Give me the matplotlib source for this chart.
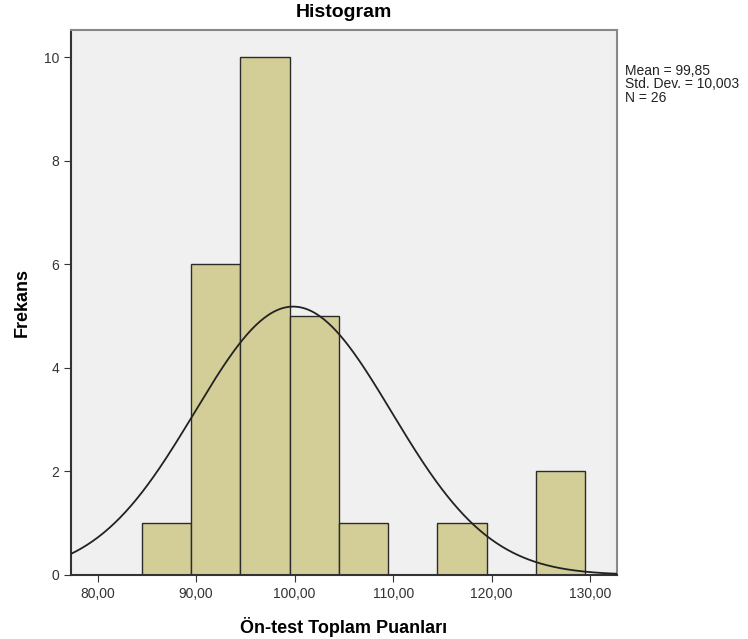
import numpy as np
import matplotlib.pyplot as plt

plt.rcParams['font.family'] = ['Liberation Sans', 'DejaVu Sans']

bin_left = [84.5, 89.5, 94.5, 99.5, 104.5, 109.5, 114.5, 119.5, 124.5]
counts = [1, 6, 10, 5, 1, 0, 1, 0, 2]
bin_width = 5
mean = 99.85
std = 10.003
n = 26
x_ticks = [80, 90, 100, 110, 120, 130]
y_ticks = [0, 2, 4, 6, 8, 10]

fig = plt.figure(figsize=(7.48, 6.39), dpi=100)
ax = fig.add_axes([0.0945, 0.1002, 0.730, 0.853])
ax.set_facecolor('#f0f0f0')

ax.bar(bin_left, counts, width=bin_width, align='edge',
       color='#d3ce97', edgecolor='#2b2b2b', linewidth=1.0, zorder=2)

xs = np.linspace(77.26, 132.7, 400)
ys = n * bin_width / (std * np.sqrt(2 * np.pi)) * np.exp(-0.5 * ((xs - mean) / std) ** 2)
ax.plot(xs, ys, color='#222222', linewidth=1.3, zorder=3)

ax.set_xlim(77.26, 132.7)
ax.set_ylim(0, 10.53)
ax.set_xticks(x_ticks)
ax.set_xticklabels([f"{v:.2f}".replace('.', ',') for v in x_ticks])
ax.set_yticks(y_ticks)
ax.tick_params(axis='both', labelsize=10, color='#333333', labelcolor='#333333',
               length=5, direction='out')

for s in ['top', 'right']:
    ax.spines[s].set_color('#888888')
    ax.spines[s].set_linewidth(1.5)
for s in ['left', 'bottom']:
    ax.spines[s].set_color('#333333')
    ax.spines[s].set_linewidth(1.5)

ax.set_title('Histogram', fontsize=14, fontweight='bold', pad=9)
ax.set_xlabel('Ön-test Toplam Puanları', fontsize=13, fontweight='bold', labelpad=12)
ax.set_ylabel('Frekans', fontsize=13, fontweight='bold', labelpad=9)

fig.text(0.836, 0.90, 'Mean = 99,85\nStd. Dev. = 10,003\nN = 26',
         fontsize=10, va='top', ha='left', linespacing=0.95, color='#222222')

fig.savefig('out.png', dpi=100)
